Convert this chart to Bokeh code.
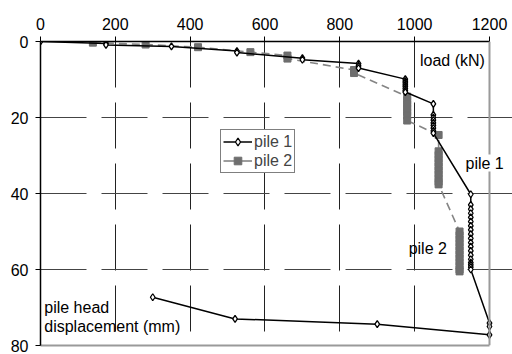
from bokeh.plotting import figure
from bokeh.models import Range1d, FixedTicker, Legend, LegendItem, Label, LinearAxis, Span
from bokeh.embed import file_html
from bokeh.resources import INLINE

# ---- data ----
x_ticks = [0, 200, 400, 600, 800, 1000, 1200]
y_ticks = [0, 20, 40, 60, 80]

pile1_load = [0, 175, 175, 350, 525, 525, 700, 700, 850, 850, 850,
              975, 975, 975, 975, 975, 975, 975, 975,
              1050, 1050, 1050, 1050, 1050, 1050, 1050, 1050, 1050,
              1150, 1150, 1150, 1150, 1150, 1150, 1150, 1150, 1150, 1150,
              1150, 1150, 1150, 1150, 1150, 1150, 1150, 1150, 1150,
              1200, 1200, 1200, 900, 520, 300]
pile1_disp = [0, 0.5, 0.9, 1.3, 2.5, 2.9, 4.4, 4.8, 5.8, 6.4, 7.0,
              9.9, 10.4, 10.9, 11.4, 11.9, 12.4, 12.9, 13.3,
              16.4, 19.3, 20.0, 20.7, 21.4, 22.1, 22.8, 23.5, 24.1,
              40.2, 43.0, 44.1, 45.2, 46.3, 47.4, 48.5, 49.6, 50.7, 51.8,
              52.9, 54.0, 55.1, 56.2, 57.3, 58.2, 58.8, 59.4, 60.0,
              74.1, 75.0, 77.2, 74.4, 73.0, 67.3]

pile2_load = [140, 281, 421, 561, 660, 660, 838, 838,
              980, 980, 980, 980, 980, 980, 980,
              1064, 1064, 1064, 1064, 1064, 1064, 1064, 1064, 1064, 1064, 1064,
              1120, 1120, 1120, 1120, 1120, 1120, 1120, 1120, 1120, 1120, 1120, 1120]
pile2_disp = [0.3, 0.8, 1.5, 2.8, 3.7, 4.5, 7.5, 8.3,
              14.5, 15.5, 16.5, 17.5, 18.5, 19.5, 20.8,
              24.6, 28.9, 29.9, 30.9, 31.9, 32.9, 33.9, 34.9, 35.9, 36.9, 37.6,
              50.0, 51.0, 52.0, 53.0, 54.0, 55.0, 56.0, 57.0, 58.0, 59.0, 60.0, 60.5]

X_MIN, X_MAX = 0, 1200
Y_MIN, Y_MAX = 0, 80
# frame extends past 1200 so that the "pile 1" note can sit beyond the right edge
X_VIEW_MAX = 1261.5

FONT = "Liberation Sans"
GRAY_EDGE = "#9a9a9a"
GRAY_LINE = "#858585"
GRAY_MARK = "#6e6e6e"

p = figure(width=512, height=354, output_backend="svg", toolbar_location=None,
           x_range=Range1d(X_MIN, X_VIEW_MAX), y_range=Range1d(Y_MAX, Y_MIN),
           x_axis_location="above",
           min_border_left=40, min_border_right=0, min_border_top=41, min_border_bottom=9)
p.background_fill_color = "white"
p.border_fill_color = "white"
p.outline_line_color = None

# grids
p.xgrid.ticker = FixedTicker(ticks=[200, 400, 600, 800, 1000])
p.ygrid.ticker = FixedTicker(ticks=[20, 40, 60])
p.xgrid.grid_line_color = "#222222"
p.ygrid.grid_line_color = "#444444"
p.xgrid.grid_line_dash = "46 15"
p.ygrid.grid_line_dash = "46 15"
p.ygrid.bounds = (X_MIN, X_MAX)
p.grid.grid_line_width = 1

# right edge of the plot area (gray) at x = 1200
p.add_layout(Span(location=X_MAX, dimension="height", line_color=GRAY_EDGE, line_width=2))

# bottom edge (gray) as a bare axis
bottom = LinearAxis(ticker=FixedTicker(ticks=[]), bounds=(X_MIN, X_MAX),
                    axis_line_color=GRAY_EDGE, axis_line_width=2,
                    major_tick_line_color=None, minor_tick_line_color=None)
p.add_layout(bottom, "below")

# axes
for ax, ticks in ((p.xaxis[0], x_ticks), (p.yaxis[0], y_ticks)):
    ax.ticker = FixedTicker(ticks=ticks)
    ax.axis_line_color = "black"
    ax.axis_line_width = 1.5
    ax.major_tick_line_color = "black"
    ax.major_tick_out = 5
    ax.major_tick_in = 0
    ax.minor_tick_line_color = None
    ax.major_label_text_font = FONT
    ax.major_label_text_font_size = "16px"
    ax.major_label_text_color = "black"
    ax.major_label_standoff = 7
p.xaxis[0].bounds = (X_MIN, X_MAX)

# series
l2 = p.line(pile2_load, pile2_disp, line_color=GRAY_LINE, line_width=1.6, line_dash="8 5")
s2 = p.scatter(pile2_load, pile2_disp, marker="square", size=7,
               fill_color=GRAY_MARK, line_color=GRAY_MARK)
l1 = p.line(pile1_load, pile1_disp, line_color="black", line_width=1.5)
s1 = p.scatter(pile1_load, pile1_disp, marker="diamond", size=7,
               fill_color="white", line_color="black", line_width=1.3)

# legend sample line for pile 2 (solid); a single point draws nothing in the plot
lg2 = p.line(pile2_load[:1], pile2_disp[:1], line_color=GRAY_LINE, line_width=1.6)

legend = Legend(items=[LegendItem(label="pile 1", renderers=[l1, s1]),
                       LegendItem(label="pile 2", renderers=[lg2, s2])],
                location=(180, 172))
legend.border_line_color = "black"
legend.border_line_width = 1
legend.padding = 2
legend.spacing = 0
legend.margin = 0
legend.glyph_width = 29
legend.glyph_height = 19
legend.label_height = 19
legend.label_standoff = 2
legend.label_text_font = FONT
legend.label_text_font_size = "16px"
legend.background_fill_alpha = 1
p.add_layout(legend)

def lab(x, y, text, align="center", bg=None):
    l = Label(x=x, y=y, text=text, text_align=align, text_baseline="middle",
              text_font=FONT, text_font_size="16px", text_color="black")
    if bg:
        l.background_fill_color = bg
    p.add_layout(l)

lab(1101, 5.1, "load (kN)")
lab(1187, 32.0, "pile 1", bg="white")
lab(1035, 54.6, "pile 2")
lab(10, 69.9, "pile head", align="left")
lab(10, 75.1, "displacement (mm)", align="left")

open("out.html", "w").write(file_html(p, INLINE))
